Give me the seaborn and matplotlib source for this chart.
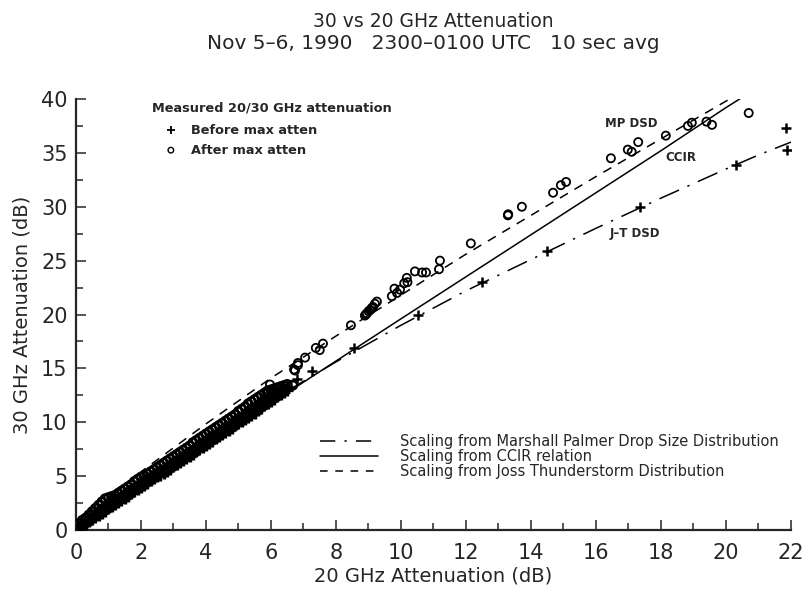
import matplotlib
matplotlib.use("Agg")
import matplotlib.pyplot as plt
import seaborn as sns
import pandas as pd
from matplotlib.lines import Line2D
from matplotlib.ticker import MultipleLocator

# ---- data ----
line_x = [0, 1, 2, 4, 6, 8, 10, 12, 14, 16, 18, 20, 21, 22]
mp_upper_y = [0, 2.95, 5.4, 9.85, 14.1, 18.0, 21.8, 25.6, 29.2, 32.8, 36.3, 39.8, 41.5, 43.2]
ccir_y = [0, 1.96, 3.92, 7.84, 11.76, 15.68, 19.6, 23.5, 27.4, 31.3, 35.2, 39.2, 41.1, 43.1]
jt_lower_y = [0, 2.2, 4.3, 8.2, 12.0, 15.6, 19.0, 22.2, 25.1, 28.0, 30.8, 33.5, 34.8, 36.0]

# dense band of 10-s samples (lower and middle edge, "before max atten")
band_x = [0.1, 0.2, 0.3, 0.4, 0.5, 0.6, 0.7, 0.8, 0.9, 1.0, 1.1, 1.2, 1.3, 1.4, 1.5,
          1.6, 1.7, 1.8, 1.9, 2.0, 2.1, 2.2, 2.3, 2.4, 2.5, 2.6, 2.7, 2.8, 2.9, 3.0,
          3.1, 3.2, 3.3, 3.4, 3.5, 3.6, 3.7, 3.8, 3.9, 4.0, 4.1, 4.2, 4.3, 4.4, 4.5,
          4.6, 4.7, 4.8, 4.9, 5.0, 5.1, 5.2, 5.3, 5.4, 5.5, 5.6, 5.7, 5.8, 5.9, 6.0,
          6.1, 6.2, 6.3, 6.4, 6.5]
band_low_y = [0.2, 0.4, 0.6, 0.8, 1.0, 1.2, 1.4, 1.6, 1.8, 2.0, 2.2, 2.4, 2.6, 2.8, 3.0,
              3.2, 3.4, 3.6, 3.8, 4.0, 4.2, 4.4, 4.6, 4.8, 5.0, 5.1, 5.3, 5.5, 5.7, 5.9,
              6.1, 6.3, 6.5, 6.7, 6.9, 7.1, 7.3, 7.5, 7.7, 7.9, 8.1, 8.3, 8.5, 8.7, 8.9,
              9.1, 9.3, 9.5, 9.7, 9.9, 10.1, 10.3, 10.5, 10.7, 10.9, 11.1, 11.3, 11.6, 11.8, 12.0,
              12.2, 12.4, 12.6, 12.8, 13.0]
band_mid_y = [0.4, 0.65, 0.85, 1.1, 1.35, 1.6, 1.85, 2.1, 2.35, 2.5, 2.65, 2.8, 3.0, 3.2, 3.4,
              3.6, 3.8, 4.05, 4.25, 4.45, 4.6, 4.8, 5.0, 5.2, 5.4, 5.55, 5.75, 5.95, 6.15, 6.35,
              6.55, 6.75, 6.95, 7.15, 7.35, 7.6, 7.8, 8.0, 8.2, 8.4, 8.6, 8.8, 9.0, 9.2, 9.4,
              9.6, 9.8, 10.0, 10.2, 10.45, 10.65, 10.85, 11.1, 11.3, 11.5, 11.7, 11.9, 12.15, 12.35, 12.5,
              12.65, 12.8, 12.95, 13.1, 13.25]
# upper edge of band ("after max atten")
band_up_y = [0.6, 0.9, 1.1, 1.4, 1.7, 2.0, 2.3, 2.6, 2.9, 3.0, 3.1, 3.2, 3.4, 3.6, 3.8,
             4.0, 4.2, 4.5, 4.7, 4.9, 5.0, 5.2, 5.4, 5.6, 5.8, 6.0, 6.2, 6.4, 6.6, 6.8,
             7.0, 7.2, 7.4, 7.6, 7.8, 8.1, 8.3, 8.5, 8.7, 8.9, 9.1, 9.3, 9.5, 9.7, 9.9,
             10.1, 10.3, 10.5, 10.7, 11.0, 11.2, 11.4, 11.7, 11.9, 12.1, 12.3, 12.5, 12.7, 12.9, 13.0,
             13.1, 13.2, 13.3, 13.4, 13.5]

# isolated samples
before_x = [6.8, 7.26, 8.55, 10.52, 12.49, 14.49, 17.35, 20.3, 21.88, 21.85]
before_y = [14.0, 14.75, 16.9, 20.0, 23.0, 25.9, 30.0, 33.9, 35.3, 37.3]

after_x = [5.97, 5.88, 6.18, 6.4, 6.68, 6.74, 6.83, 6.68, 6.71, 6.83, 7.05, 7.38, 7.5, 7.6,
           8.46, 8.89, 8.92, 8.95, 9.0, 9.05, 9.1, 9.14, 9.2, 9.26, 9.72, 9.8, 9.88, 9.97,
           10.1, 10.2, 10.18, 10.43, 10.65, 10.77, 11.17, 11.2, 12.15, 13.29, 13.3, 13.72,
           14.68, 14.92, 15.08, 16.46, 16.98, 17.1, 17.3, 18.15, 18.83, 18.95, 19.4, 19.57, 20.7]
after_y = [13.5, 12.7, 12.5, 12.9, 13.5, 14.8, 15.3, 13.4, 14.9, 15.5, 16.0, 16.9, 16.7, 17.3,
           19.0, 19.9, 20.0, 20.1, 20.3, 20.4, 20.6, 20.7, 21.0, 21.2, 21.7, 22.4, 22.0, 22.3,
           22.9, 23.0, 23.4, 24.0, 23.9, 23.9, 24.2, 25.0, 26.6, 29.2, 29.3, 30.0,
           31.3, 32.0, 32.3, 34.5, 35.3, 35.1, 36.0, 36.6, 37.5, 37.8, 37.9, 37.6, 38.7]

x_ticks = [0, 2, 4, 6, 8, 10, 12, 14, 16, 18, 20, 22]
y_ticks = [0, 5, 10, 15, 20, 25, 30, 35, 40]

legend_labels = ["Scaling from Marshall Palmer Drop Size Distribution",
                 "Scaling from CCIR relation",
                 "Scaling from Joss Thunderstorm Distribution"]

# ---- plotting ----
sns.set_style("ticks")
plt.rcParams['font.family'] = ['DejaVu Sans']

fig = plt.figure(figsize=(8.03, 5.91), dpi=100)
ax = fig.add_axes([0.0946, 0.1032, 0.8904, 0.7293])

lines_df = pd.DataFrame({"x": line_x, "mp": mp_upper_y, "ccir": ccir_y, "jt": jt_lower_y})
sns.lineplot(data=lines_df, x="x", y="mp", ax=ax, color="black", lw=1.1,
             linestyle=(0, (6, 5)))
sns.lineplot(data=lines_df, x="x", y="ccir", ax=ax, color="black", lw=1.1, linestyle="-")
sns.lineplot(data=lines_df, x="x", y="jt", ax=ax, color="black", lw=1.1,
             linestyle=(0, (14, 6, 1.5, 6)))

band_b = pd.DataFrame({"x": band_x + band_x, "y": band_low_y + band_mid_y})
band_a = pd.DataFrame({"x": band_x, "y": band_up_y})
sns.scatterplot(data=band_b, x="x", y="y", ax=ax, marker="+", s=80, color="black",
                linewidth=2.4, zorder=5)
sns.scatterplot(data=band_a, x="x", y="y", ax=ax, marker="o", s=38, facecolors="none",
                edgecolor="black", linewidth=1.8, zorder=5)

bdf = pd.DataFrame({"x": before_x, "y": before_y})
adf = pd.DataFrame({"x": after_x, "y": after_y})
sns.scatterplot(data=bdf, x="x", y="y", ax=ax, marker="+", s=60, color="black",
                linewidth=1.8, zorder=5)
sns.scatterplot(data=adf, x="x", y="y", ax=ax, marker="o", s=34, facecolors="none",
                edgecolor="black", linewidth=1.3, zorder=5)

ax.set_xlim(0, 22)
ax.set_ylim(0, 40)
ax.set_xticks(x_ticks)
ax.set_yticks(y_ticks)
ax.xaxis.set_minor_locator(MultipleLocator(1))
ax.yaxis.set_minor_locator(MultipleLocator(2.5))
ax.tick_params(axis="both", which="major", direction="in", length=7, width=1.1,
               labelsize=15, pad=6)
ax.tick_params(axis="x", which="major", pad=9)
ax.tick_params(axis="both", which="minor", direction="in", length=5, width=1.1)
sns.despine(ax=ax)
for sp in ("left", "bottom"):
    ax.spines[sp].set_linewidth(1.6)

ax.set_xlabel("20 GHz Attenuation (dB)", fontsize=14, labelpad=3)
ax.set_ylabel("30 GHz Attenuation (dB)", fontsize=14, labelpad=7)

fig.text(0.54, 0.963, "30 vs 20 GHz Attenuation", ha="center", va="center", fontsize=13.5)
fig.text(0.54, 0.926, "Nov 5\u20136, 1990   2300\u20130100 UTC   10 sec avg",
         ha="center", va="center", fontsize=14.5)

# upper-left marker legend
ax.text(2.34, 39.15, "Measured 20/30 GHz attenuation", fontsize=9.3, fontweight="bold",
        va="center")
ax.scatter([2.92], [37.1], marker="+", s=28, color="black", linewidth=1.3)
ax.text(3.55, 37.1, "Before max atten", fontsize=9.3, fontweight="bold", va="center")
ax.scatter([2.92], [35.25], marker="o", s=16, facecolors="none", edgecolors="black",
           linewidth=1.0)
ax.text(3.55, 35.25, "After max atten", fontsize=9.3, fontweight="bold", va="center")

# curve annotations
ax.text(17.1, 37.75, "MP DSD", fontsize=8.5, fontweight="bold", ha="center", va="center")
ax.text(18.6, 34.6, "CCIR", fontsize=8.5, fontweight="bold", ha="center", va="center")
ax.text(17.2, 27.5, "J\u2013T DSD", fontsize=8.5, fontweight="bold", ha="center", va="center")

handles = [Line2D([], [], color="black", lw=1.1, linestyle=(0, (10, 6, 1.5, 6))),
           Line2D([], [], color="black", lw=1.1, linestyle="-"),
           Line2D([], [], color="black", lw=1.1, linestyle=(0, (5, 5)))]
ax.legend(handles, legend_labels, loc="lower right", bbox_to_anchor=(0.995, 0.098),
          frameon=False, fontsize=10.5, handlelength=4.0, handletextpad=1.5,
          labelspacing=0.0, borderaxespad=0.2)

fig.savefig("out.png", dpi=100)
